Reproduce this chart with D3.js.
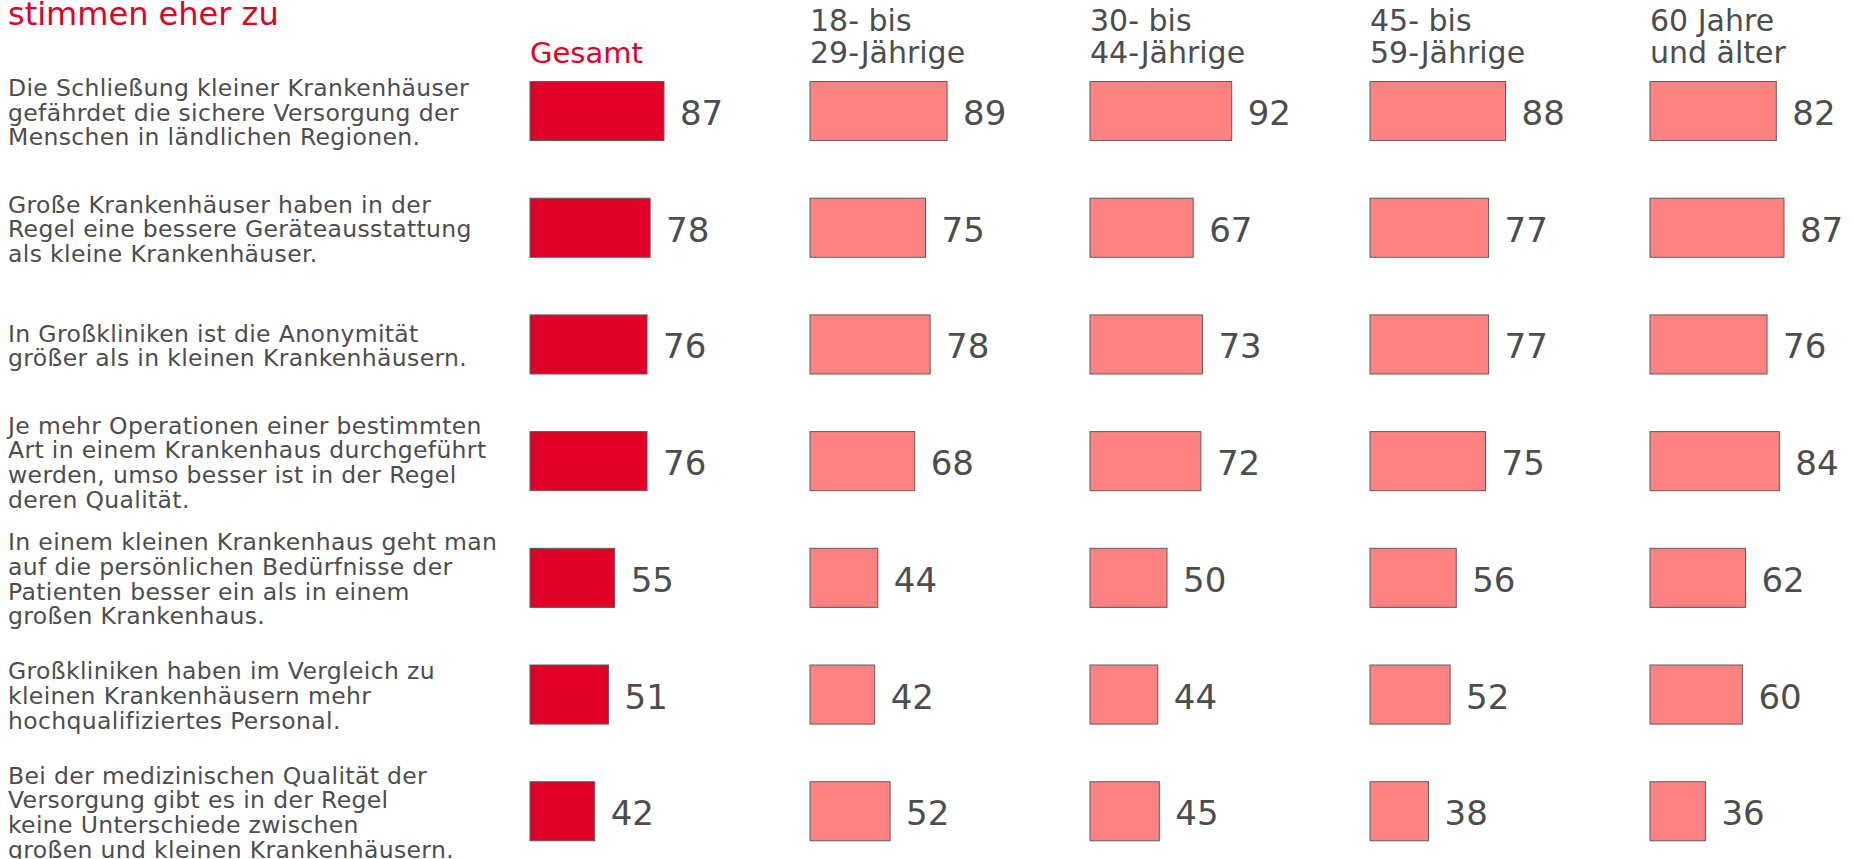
<!DOCTYPE html>
<meta charset="utf-8">
<style>
    body { margin: 0; background: #fff; }
    svg { display: block; font-family: "DejaVu Sans", Verdana, sans-serif; }
    .rowlabel { fill: #4d4d4d; font-size: 23.5px; letter-spacing: 0.35px; }
    .head { fill: #4d4d4d; font-size: 30px; }
    .val { fill: #4d4d4d; font-size: 34px; }
</style>
<body>
<script src="https://cdn.jsdelivr.net/npm/d3@7/dist/d3.min.js"></script>
<script>

    var width = 1854,
        height = 859;

    var title = "stimmen eher zu";

    // statements, already broken into lines as in the original
    var statements = [
        ["Die Schließung kleiner Krankenhäuser", "gefährdet die sichere Versorgung der", "Menschen in ländlichen Regionen."],
        ["Große Krankenhäuser haben in der", "Regel eine bessere Geräteausstattung", "als kleine Krankenhäuser."],
        ["In Großkliniken ist die Anonymität", "größer als in kleinen Krankenhäusern."],
        ["Je mehr Operationen einer bestimmten", "Art in einem Krankenhaus durchgeführt", "werden, umso besser ist in der Regel", "deren Qualität."],
        ["In einem kleinen Krankenhaus geht man", "auf die persönlichen Bedürfnisse der", "Patienten besser ein als in einem", "großen Krankenhaus."],
        ["Großkliniken haben im Vergleich zu", "kleinen Krankenhäusern mehr", "hochqualifiziertes Personal."],
        ["Bei der medizinischen Qualität der", "Versorgung gibt es in der Regel", "keine Unterschiede zwischen", "großen und kleinen Krankenhäusern."]
    ];

    var groups = ["Gesamt", "18-29", "30-44", "45-59", "60+"];
    var groupLabels = [["Gesamt"], ["18- bis", "29-Jährige"], ["30- bis", "44-Jährige"], ["45- bis", "59-Jährige"], ["60 Jahre", "und älter"]];

    var gesamt   = [87, 78, 76, 76, 55, 51, 42];
    var age18_29 = [89, 75, 78, 68, 44, 42, 52];
    var age30_44 = [92, 67, 73, 72, 50, 44, 45];
    var age45_59 = [88, 77, 77, 75, 56, 52, 38];
    var age60    = [82, 87, 76, 84, 62, 60, 36];

    var series = [gesamt, age18_29, age30_44, age45_59, age60];

    var red = "#e10026",
        pink = "#ff8282";

    var svg = d3.select("body").append("svg")
        .attr("width", width)
        .attr("height", height);

    // rows
    var y = d3.scaleBand()
        .domain(d3.range(statements.length))
        .range([52.7, 869.6])
        .paddingInner(0.494)
        .paddingOuter(0.247);

    // columns
    var col = d3.scaleBand()
        .domain(groups)
        .range([530, 1930]);

    // bar length
    var x = d3.scaleLinear()
        .domain([0, 100])
        .range([0, 154]);

    svg.append("text")
        .attr("x", 8)
        .attr("y", 25)
        .style("fill", red)
        .style("font-size", "32px")
        .text(title);

    // statement labels
    var lineH = 24.6;
    svg.append("g")
        .selectAll("text")
        .data(statements)
        .enter()
        .append("text")
        .attr("class", "rowlabel")
        .each(function(lines, i){
            var cy = y(i) + y.bandwidth() / 2;
            var t = d3.select(this);
            lines.forEach(function(l, j){
                t.append("tspan")
                    .attr("x", 8)
                    .attr("y", cy + (j - (lines.length - 1) / 2) * lineH + 9.5)
                    .text(l);
            });
        });

    // column headers
    svg.append("g")
        .selectAll("text")
        .data(groups)
        .enter()
        .append("text")
        .attr("class", "head")
        .style("fill", function(d, i){ return i == 0 ? red : null; })
        .style("font-size", function(d, i){ return i == 0 ? "29px" : null; })
        .each(function(g, i){
            var lines = groupLabels[i];
            var t = d3.select(this);
            lines.forEach(function(l, j){
                t.append("tspan")
                    .attr("x", col(g))
                    .attr("y", 63 - (lines.length - 1 - j) * 31.6)
                    .text(l);
            });
        });

    // bars and values per group
    groups.forEach(function(g, gi){
        var gg = svg.append("g").attr("id", "grp_" + gi);
        var vals = series[gi];

        gg.selectAll("rect")
            .data(vals)
            .enter()
            .append("rect")
            .attr("x", col(g))
            .attr("y", function(d, i){ return y(i); })
            .attr("width", function(d){ return x(d); })
            .attr("height", y.bandwidth())
            .style("fill", gi == 0 ? red : pink)
            .style("stroke", "#5c5c5c")
            .style("stroke-width", 1);

        gg.selectAll("text")
            .data(vals)
            .enter()
            .append("text")
            .attr("class", "val")
            .attr("x", function(d){ return col(g) + x(d) + 16; })
            .attr("y", function(d, i){ return y(i) + y.bandwidth() / 2 + 14; })
            .text(function(d){ return d; });
    });
</script>
